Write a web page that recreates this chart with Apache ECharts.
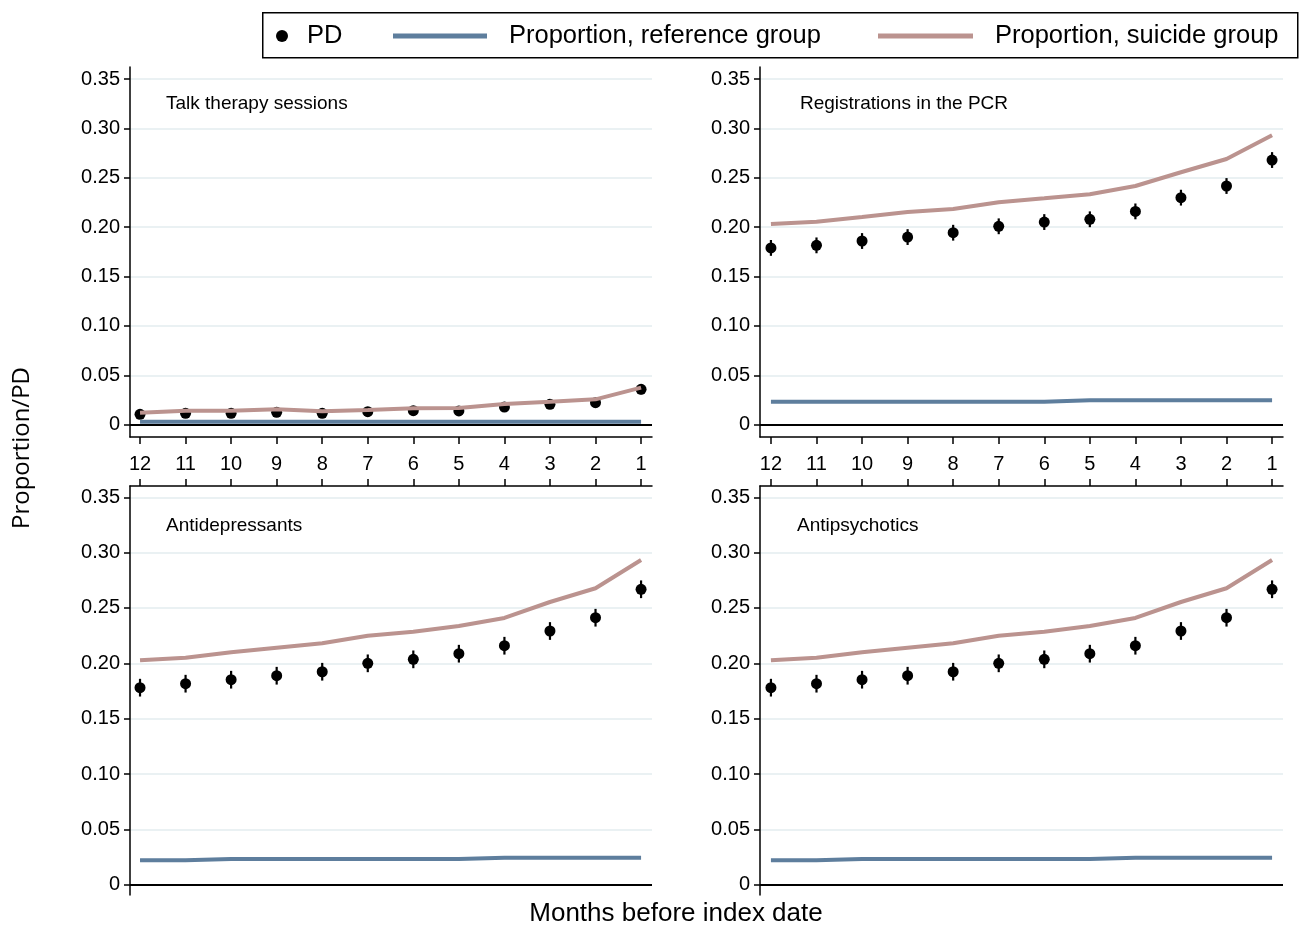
<!DOCTYPE html>
<html><head><meta charset="utf-8">
<script src="https://cdn.jsdelivr.net/npm/echarts@6/dist/echarts.min.js"></script>
<style>html,body{margin:0;padding:0;background:#fff}#chart{width:1303px;height:928px}</style>
</head><body><div id="chart"></div>
<script>
// ---- data (months before index date, 12 -> 1) ----
const months = [12,11,10,9,8,7,6,5,4,3,2,1];
const yTicks = [0,0.05,0.10,0.15,0.20,0.25,0.30,0.35];
const panelTitles = ['Talk therapy sessions','Registrations in the PCR','Antidepressants','Antipsychotics'];
const seriesNames = ['PD','Proportion, reference group','Proportion, suicide group'];

const talkPD      = [0.0105,0.0115,0.0115,0.0125,0.0115,0.0132,0.0142,0.0139,0.0179,0.0206,0.0223,0.0358];
const talkCI      = [0.004,0.004,0.004,0.004,0.004,0.004,0.004,0.004,0.004,0.004,0.004,0.005];
const talkRef     = [0.003,0.003,0.003,0.003,0.003,0.003,0.003,0.003,0.003,0.003,0.003,0.003];
const talkSuicide = [0.0122,0.0142,0.0142,0.0156,0.0135,0.0149,0.0166,0.0169,0.0210,0.0233,0.0257,0.0375];

const pcrPD      = [0.1790,0.1816,0.1860,0.1900,0.1944,0.2009,0.2052,0.2080,0.2160,0.2299,0.2417,0.2680];
const pcrCI      = [0.008,0.008,0.008,0.008,0.008,0.008,0.008,0.008,0.008,0.008,0.008,0.008];
const pcrRef     = [0.0233,0.0233,0.0233,0.0233,0.0233,0.0233,0.0233,0.0247,0.0247,0.0247,0.0247,0.0247];
const pcrSuicide = [0.2032,0.2056,0.2103,0.2154,0.2184,0.2252,0.2292,0.2333,0.2417,0.2556,0.2690,0.2930];

const adPD      = [0.1780,0.1816,0.1852,0.1888,0.1924,0.2000,0.2036,0.2087,0.2159,0.2292,0.2412,0.2669];
const adCI      = [0.008,0.008,0.008,0.008,0.008,0.008,0.008,0.008,0.008,0.008,0.008,0.008];
const adRef     = [0.0220,0.0220,0.0232,0.0232,0.0232,0.0232,0.0232,0.0232,0.0244,0.0244,0.0244,0.0244];
const adSuicide = [0.2027,0.2051,0.2100,0.2141,0.2181,0.2250,0.2286,0.2337,0.2410,0.2554,0.2678,0.2933];

const apPD      = [0.1780,0.1816,0.1852,0.1888,0.1924,0.2000,0.2036,0.2087,0.2159,0.2292,0.2412,0.2669];
const apCI      = [0.008,0.008,0.008,0.008,0.008,0.008,0.008,0.008,0.008,0.008,0.008,0.008];
const apRef     = [0.0220,0.0220,0.0232,0.0232,0.0232,0.0232,0.0232,0.0232,0.0244,0.0244,0.0244,0.0244];
const apSuicide = [0.2027,0.2051,0.2100,0.2141,0.2181,0.2250,0.2286,0.2337,0.2410,0.2554,0.2678,0.2933];

// ---- build ----
const panels = [
  {pd: talkPD, ci: talkCI, ref: talkRef, sui: talkSuicide},
  {pd: pcrPD, ci: pcrCI, ref: pcrRef, sui: pcrSuicide},
  {pd: adPD, ci: adCI, ref: adRef, sui: adSuicide},
  {pd: apPD, ci: apCI, ref: apRef, sui: apSuicide}
];
const FONT = 'Liberation Sans, Arial, sans-serif';
const REF_COLOR = '#5e7e9d';
const SUI_COLOR = '#bb938f';

const grids = [
  {left:130, top:67, width:522, height:370},
  {left:760, top:67, width:523, height:370},
  {left:130, top:486, width:522, height:409},
  {left:760, top:486, width:523, height:409}
];
const titlePos = [[166,94],[800,94],[166,516],[797,516]];

const xAxes = [], yAxes = [], series = [], titles = [];
panels.forEach((p, i) => {
  const isTop = i < 2;
  xAxes.push({
    gridIndex: i, type: 'value', inverse: true,
    min: 0.76, max: (i % 2 === 0) ? 12.22 : 12.24,
    position: isTop ? 'bottom' : 'top',
    axisLine: {show: true, onZero: false, lineStyle: {color: '#000', width: 1.5}},
    axisTick: {show: true, inside: false, length: 7, customValues: months, lineStyle: {color: '#000', width: 1.5}},
    axisLabel: {show: isTop, customValues: months, margin: 17, fontSize: 20, color: '#000', fontFamily: FONT},
    splitLine: {show: false}
  });
  yAxes.push({
    gridIndex: i, type: 'value',
    min: isTop ? -0.01245 : -0.0093,
    max: isTop ? 0.3622 : 0.3602,
    axisLine: {show: true, onZero: false, lineStyle: {color: '#000', width: 1.5}},
    axisTick: {show: true, length: 6, customValues: yTicks, lineStyle: {color: '#000', width: 1.5}},
    axisLabel: {customValues: yTicks, margin: 10, fontSize: 20, color: '#000', fontFamily: FONT,
      formatter: v => (Math.abs(v) < 1e-9 ? '0' : v.toFixed(2))},
    splitLine: {show: true, lineStyle: {color: '#e3edef', width: 1.5}}
  });
  titles.push({
    text: panelTitles[i], left: titlePos[i][0], top: titlePos[i][1], padding: 0,
    textStyle: {fontSize: 19, fontWeight: 'normal', fontFamily: FONT, color: '#000'}
  });
  // error bars
  series.push({
    type: 'custom', name: 'PD', xAxisIndex: i, yAxisIndex: i, z: 2, silent: true,
    color: '#000', itemStyle: {color: '#000'},
    data: months.map((m, k) => [m, p.pd[k] - p.ci[k], p.pd[k] + p.ci[k]]),
    encode: {x: 0, y: [1, 2]},
    renderItem: (params, api) => {
      const x = api.value(0);
      const a = api.coord([x, api.value(1)]);
      const b = api.coord([x, api.value(2)]);
      return {type: 'line', shape: {x1: a[0], y1: a[1], x2: b[0], y2: b[1]},
              style: {stroke: '#000', lineWidth: 2.2}};
    }
  });
  series.push({
    type: 'scatter', name: 'PD', xAxisIndex: i, yAxisIndex: i, z: 3,
    symbol: 'circle', symbolSize: 11, color: '#000', itemStyle: {color: '#000', opacity: 1},
    data: months.map((m, k) => [m, p.pd[k]])
  });
  series.push({
    type: 'line', name: 'Proportion, reference group', xAxisIndex: i, yAxisIndex: i, z: 4,
    showSymbol: false, symbol: 'none', color: REF_COLOR,
    itemStyle: {color: REF_COLOR}, lineStyle: {color: REF_COLOR, width: 4},
    data: months.map((m, k) => [m, p.ref[k]]),
    markLine: {silent: true, symbol: ['none','none'], label: {show: false}, z: 1,
      lineStyle: {color: '#000', width: 2, type: 'solid'}, data: [{yAxis: 0}]}
  });
  series.push({
    type: 'line', name: 'Proportion, suicide group', xAxisIndex: i, yAxisIndex: i, z: 5,
    showSymbol: false, symbol: 'none', color: SUI_COLOR,
    itemStyle: {color: SUI_COLOR}, lineStyle: {color: SUI_COLOR, width: 4},
    data: months.map((m, k) => [m, p.sui[k]])
  });
});

const legendText = {fontSize: 25.5, fontFamily: FONT, color: '#000'};
const option = {
  backgroundColor: '#fff',
  animation: false,
  title: titles,
  grid: grids,
  xAxis: xAxes,
  yAxis: yAxes,
  legend: [
    {data: [{name: seriesNames[0], icon: 'circle', itemStyle: {color: '#000'}}], left: 276, top: 23, padding: 0, itemWidth: 12, itemHeight: 12,
     selectedMode: false, textStyle: Object.assign({padding: [0,0,0,14]}, legendText)},
    {data: [{name: seriesNames[1], icon: 'rect'}], left: 393, top: 23, padding: 0, itemWidth: 94, itemHeight: 5,
     selectedMode: false, textStyle: Object.assign({padding: [0,0,0,17]}, legendText)},
    {data: [{name: seriesNames[2], icon: 'rect'}], left: 878, top: 23, padding: 0, itemWidth: 95, itemHeight: 5,
     selectedMode: false, textStyle: Object.assign({padding: [0,0,0,17]}, legendText)}
  ],
  graphic: [
    {type: 'rect', left: 262, top: 12, z: -1, shape: {width: 1035, height: 45},
     style: {fill: '#fff', stroke: '#000', lineWidth: 1.5}},
    {type: 'text', x: 22, y: 448, rotation: Math.PI / 2,
     style: {text: 'Proportion/PD', font: '24px "Open Sans", sans-serif', fill: '#000',
             textAlign: 'center', textVerticalAlign: 'middle'}},
    {type: 'text', x: 676, y: 914,
     style: {text: 'Months before index date', font: '26px "Liberation Sans", Arial, sans-serif', fill: '#000',
             textAlign: 'center', textVerticalAlign: 'middle'}}
  ],
  series: series
};
const chart = echarts.init(document.getElementById('chart'), null, {renderer: 'canvas'});
chart.setOption(option);
</script></body></html>
